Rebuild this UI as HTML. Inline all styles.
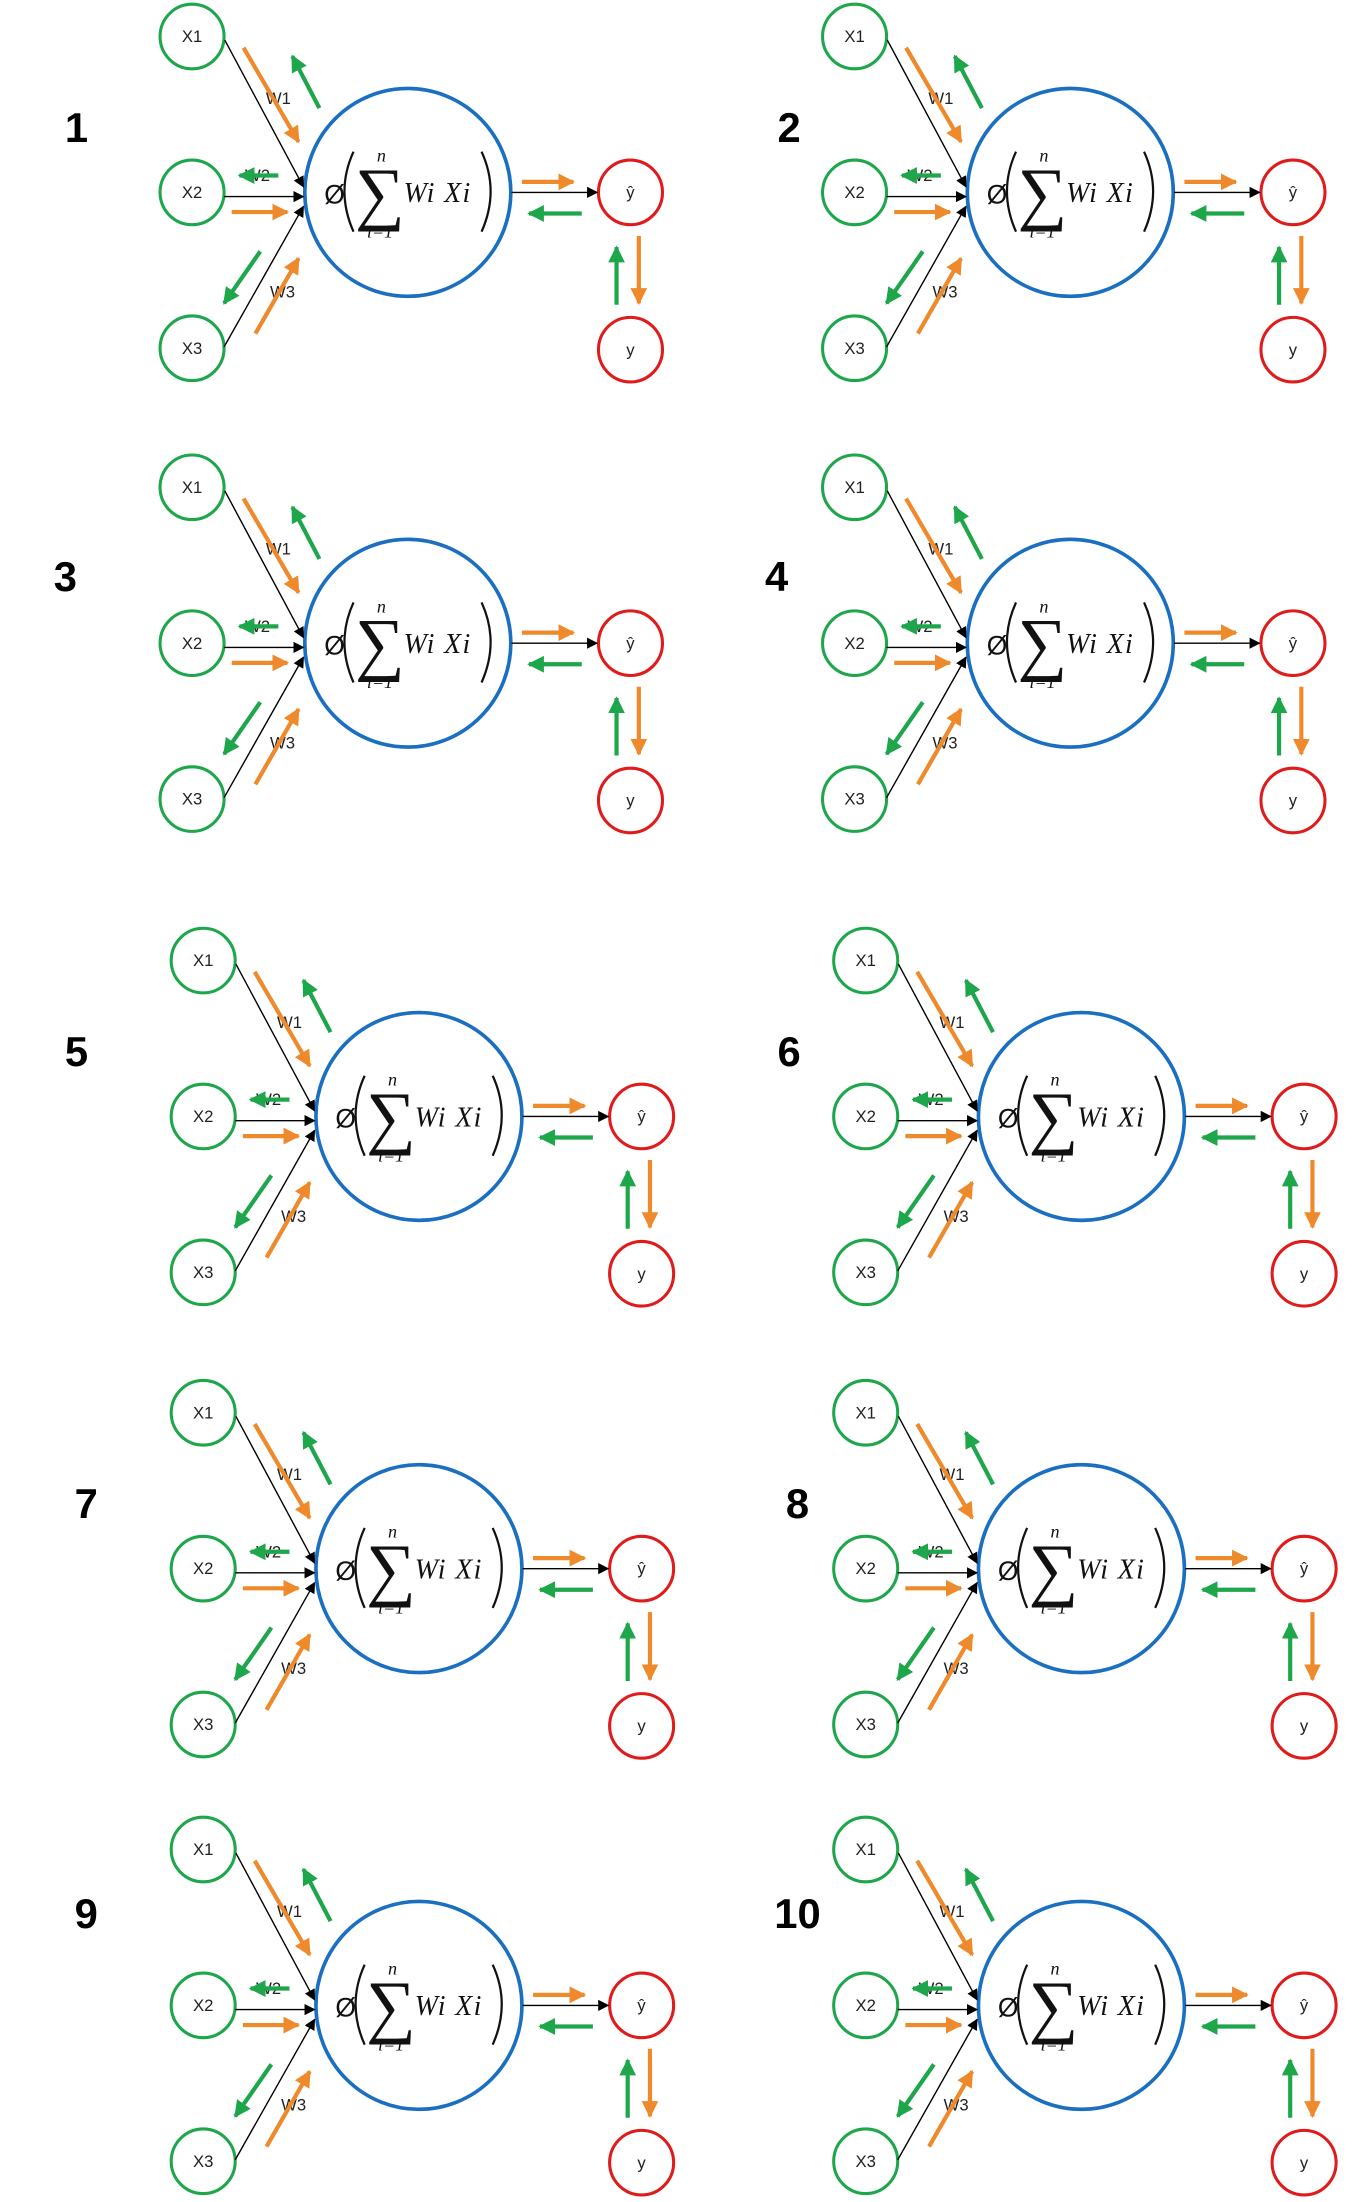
<!DOCTYPE html>
<html><head><meta charset="utf-8"><style>html,body{margin:0;padding:0;background:#fff}svg{display:block}</style></head>
<body>
<svg width="1357" height="2202" viewBox="0 0 975 1568" preserveAspectRatio="none" xmlns="http://www.w3.org/2000/svg">
<defs>
<marker id="mk" viewBox="0 0 10 10" refX="9" refY="5" markerWidth="8" markerHeight="8" markerUnits="userSpaceOnUse" orient="auto"><path d="M0,0 L10,5 L0,10 z" fill="#000"/></marker>
<marker id="mo" viewBox="0 0 10 10" refX="9" refY="5" markerWidth="4" markerHeight="4" orient="auto"><path d="M0,0 L10,5 L0,10 z" fill="#ee8a2c"/></marker>
<marker id="mg" viewBox="0 0 10 10" refX="9" refY="5" markerWidth="4" markerHeight="4" orient="auto"><path d="M0,0 L10,5 L0,10 z" fill="#1ea64b"/></marker>
<g id="d" font-family="Liberation Sans, sans-serif">
<g fill="none" stroke-width="2.2">
<circle cx="0" cy="0" r="23" stroke="#1ea64b"/>
<circle cx="0" cy="111" r="23" stroke="#1ea64b"/>
<circle cx="0" cy="222" r="23" stroke="#1ea64b"/>
<circle cx="155" cy="111" r="74" stroke="#1b6fc0" stroke-width="2.6"/>
<circle cx="315" cy="111" r="23" stroke="#e01b1b"/>
<circle cx="315" cy="223" r="23" stroke="#e01b1b"/>
</g>
<g stroke="#000" stroke-width="1" marker-end="url(#mk)">
<line x1="23.5" y1="2.5" x2="80" y2="107"/>
<line x1="23" y1="114" x2="80" y2="114"/>
<line x1="23" y1="221" x2="80" y2="121"/>
<line x1="229.5" y1="111" x2="291" y2="111"/>
</g>
<g font-size="12" fill="#222" text-anchor="middle">
<text x="0" y="4">X1</text><text x="0" y="115">X2</text><text x="0" y="226">X3</text>
<text x="315" y="115">ŷ</text><text x="315" y="227">y</text>
<text x="62" y="48">W1</text><text x="47" y="103">W2</text><text x="65" y="186">W3</text>
</g>
<g stroke-width="3" fill="none">
<line x1="37" y1="8" x2="76.5" y2="75" stroke="#ee8a2c" marker-end="url(#mo)"/>
<line x1="91.5" y1="51" x2="72" y2="14" stroke="#1ea64b" marker-end="url(#mg)"/>
<line x1="62" y1="99" x2="34" y2="99" stroke="#1ea64b" marker-end="url(#mg)"/>
<line x1="28.5" y1="125" x2="68.5" y2="125" stroke="#ee8a2c" marker-end="url(#mo)"/>
<line x1="49" y1="153" x2="23" y2="190" stroke="#1ea64b" marker-end="url(#mg)"/>
<line x1="45.5" y1="211.5" x2="76.5" y2="158" stroke="#ee8a2c" marker-end="url(#mo)"/>
<line x1="237" y1="103.5" x2="274" y2="103.5" stroke="#ee8a2c" marker-end="url(#mo)"/>
<line x1="280" y1="126" x2="242" y2="126" stroke="#1ea64b" marker-end="url(#mg)"/>
<line x1="305" y1="191" x2="305" y2="150" stroke="#1ea64b" marker-end="url(#mg)"/>
<line x1="321" y1="142" x2="321" y2="190" stroke="#ee8a2c" marker-end="url(#mo)"/>
</g>
<path d="M116,82 Q103,110 116,139" fill="none" stroke="#111" stroke-width="1.6"/>
<path d="M208,82 Q221,110 208,139" fill="none" stroke="#111" stroke-width="1.6"/>
<g fill="#111" font-family="Liberation Serif, serif">
<text x="95" y="119" font-size="19" font-family="Liberation Sans, sans-serif">Ø</text>
<text x="135" y="128" font-size="50" text-anchor="middle">∑</text>
<text x="136" y="89" font-size="13" font-style="italic" text-anchor="middle">n</text>
<text x="135" y="143" font-size="13" font-style="italic" text-anchor="middle">i=1</text>
<text x="152" y="118" font-size="20" font-style="italic" letter-spacing="1">Wi Xi</text>
</g>
</g>
</defs>
<use href="#d" x="138" y="26"/>
<use href="#d" x="614" y="26"/>
<use href="#d" x="138" y="347"/>
<use href="#d" x="614" y="347"/>
<use href="#d" x="146" y="684"/>
<use href="#d" x="622" y="684"/>
<use href="#d" x="146" y="1006"/>
<use href="#d" x="622" y="1006"/>
<use href="#d" x="146" y="1317"/>
<use href="#d" x="622" y="1317"/>
<g font-family="Liberation Sans, sans-serif" font-weight="bold" font-size="30" text-anchor="middle" fill="#000">
<text x="55" y="101">1</text><text x="567" y="101">2</text>
<text x="47" y="421">3</text><text x="558" y="421">4</text>
<text x="55" y="759">5</text><text x="567" y="759">6</text>
<text x="62" y="1081">7</text><text x="573" y="1081">8</text>
<text x="62" y="1373">9</text><text x="573" y="1373">10</text>
</g>
</svg>
</body></html>
